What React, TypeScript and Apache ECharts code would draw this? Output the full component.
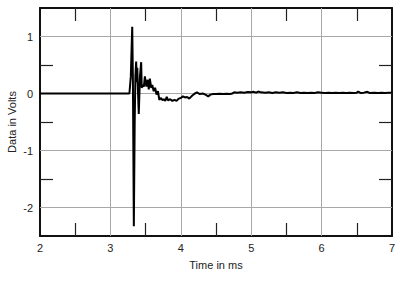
import React, { useEffect, useRef } from "react";
import * as echarts from "echarts";

const timeMs: number[] = [
  2.0, 3.27, 3.29, 3.31, 3.32, 3.333, 3.345, 3.355, 3.366, 3.375, 3.382, 3.39, 3.403, 3.42, 3.437,
  3.445, 3.46, 3.475, 3.49, 3.51, 3.53, 3.545, 3.56, 3.58, 3.595, 3.615, 3.635, 3.655, 3.675,
  3.695, 3.72, 3.74, 3.76, 3.78, 3.8, 3.82, 3.85, 3.88, 3.91, 3.94, 3.97, 4.0, 4.03, 4.06, 4.09,
  4.12, 4.16, 4.2, 4.23, 4.27, 4.31, 4.35, 4.39, 4.42, 4.46, 4.5, 4.55, 4.6, 4.65, 4.7, 4.73,
  4.76, 4.8, 4.85, 4.9, 4.95, 5.0, 5.03, 5.07, 5.1, 5.14, 5.2, 5.25, 5.3, 5.35, 5.4, 5.45, 5.5,
  5.55, 5.6, 5.65, 5.7, 5.75, 5.8, 5.85, 5.9, 5.95, 6.0, 6.05, 6.1, 6.15, 6.2, 6.25, 6.3, 6.35,
  6.4, 6.45, 6.5, 6.52, 6.55, 6.6, 6.65, 6.68, 6.75, 6.8, 6.85, 6.9, 6.95, 7.0,
];

const volts: number[] = [
  0, 0, 0.3, 1.17, 0.2, -2.33, -0.5, 0.3, 0.56, 0.2, 0.45, 0.1, -0.36, 0.3, 0.55,
  0.1, 0.15, 0.12, 0.3, 0.12, 0.24, 0.07, 0.26, 0.1, 0.15, 0.04, 0.1, -0.02, 0.04,
  -0.11, -0.08, -0.12, -0.1, -0.13, -0.06, -0.12, -0.1, -0.13, -0.11, -0.13, -0.09, -0.08, -0.05, -0.07, -0.06,
  -0.09, -0.04, 0.0, 0.02, -0.01, 0.0, -0.02, -0.05, -0.02, -0.01, -0.01, -0.005, -0.01, -0.005, -0.01, 0.0,
  0.02, 0.015, 0.02, 0.015, 0.025, 0.02, 0.03, 0.015, 0.035, 0.02, 0.015, 0.02, 0.01, 0.02, 0.015, 0.02, 0.01,
  0.015, 0.01, 0.02, 0.01, 0.015, 0.01, 0.015, 0.01, 0.02, 0.015, 0.01, 0.015, 0.01, 0.015, 0.01, 0.015, 0.01,
  0.015, 0.01, 0.015, 0.035, 0.01, 0.015, 0.03, 0.01, 0.015, 0.01, 0.015, 0.01, 0.015, 0.015,
];

const xGridValues: number[] = [3, 4, 5, 6];
const yGridValues: number[] = [-2, -1, 0, 1];
const yMinorTicks: number[] = [-1.5, -0.5, 0.5];
const yLabelValues: number[] = [-2, -1, 0, 1];

const FONT = "Liberation Sans, Arial, Helvetica, sans-serif";
const FRAME = { show: true, onZero: false, lineStyle: { color: "#111", width: 2 } };
const TICKSTYLE = { color: "#222", width: 1.2 };

export default function App() {
  const ref = useRef<HTMLDivElement>(null);
  useEffect(() => {
    if (!ref.current) return;
    const chart = echarts.init(ref.current, undefined, { renderer: "svg" });
    const data = timeMs.map((t, i) => [t, volts[i]]);
    const xCommon = {
      type: "value",
      min: 2,
      max: 7,
      interval: 1,
      axisLine: FRAME,
      axisTick: { show: false, inside: true },
      minorTick: { show: true, splitNumber: 2, length: 13, lineStyle: TICKSTYLE },
      splitLine: { show: false },
      minorSplitLine: { show: false },
    };
    chart.setOption({
      animation: false,
      backgroundColor: "#fff",
      grid: {
        left: 40,
        right: 8,
        top: 8,
        bottom: 47,
        containLabel: false,
        outerBoundsMode: "none",
      },
      xAxis: [
        {
          ...xCommon,
          position: "bottom",
          name: "Time in ms",
          nameLocation: "middle",
          nameGap: 23,
          nameMoveOverlap: false,
          nameTextStyle: { fontFamily: FONT, fontSize: 11, color: "#222" },
          axisLabel: { fontFamily: FONT, fontSize: 11, color: "#222", margin: 6 },
        },
        {
          ...xCommon,
          position: "top",
          axisLabel: { show: false },
        },
      ],
      yAxis: [
        {
          type: "value",
          position: "left",
          min: -2.5,
          max: 1.5,
          name: "Data in Volts",
          nameLocation: "middle",
          nameGap: 23,
          nameMoveOverlap: false,
          nameTextStyle: { fontFamily: FONT, fontSize: 11, color: "#222" },
          axisLine: FRAME,
          axisTick: {
            show: true,
            inside: true,
            length: 13,
            lineStyle: TICKSTYLE,
            customValues: yMinorTicks,
          },
          axisLabel: {
            fontFamily: FONT,
            fontSize: 11,
            color: "#222",
            margin: 7,
            customValues: yLabelValues,
          },
          splitLine: { show: false },
        },
        {
          type: "value",
          position: "right",
          min: -2.5,
          max: 1.5,
          axisLine: FRAME,
          axisTick: {
            show: true,
            inside: true,
            length: 13,
            lineStyle: TICKSTYLE,
            customValues: yMinorTicks,
          },
          axisLabel: { show: false },
          splitLine: { show: false },
        },
      ],
      series: [
        {
          type: "line",
          xAxisIndex: 0,
          yAxisIndex: 0,
          data,
          showSymbol: false,
          symbol: "none",
          z: 3,
          lineStyle: { color: "#000", width: 2 },
          markLine: {
            silent: true,
            z: 1,
            symbol: ["none", "none"],
            label: { show: false },
            lineStyle: { color: "#a8a8a8", width: 1, type: "solid" },
            data: [
              ...xGridValues.map((v) => ({ xAxis: v })),
              ...yGridValues.map((v) => ({ yAxis: v })),
            ],
          },
        },
      ],
    });
    return () => chart.dispose();
  }, []);
  return (
    <div
      ref={ref}
      style={{ position: "absolute", left: 0, top: 0, width: 400, height: 283, background: "#fff" }}
    />
  );
}
